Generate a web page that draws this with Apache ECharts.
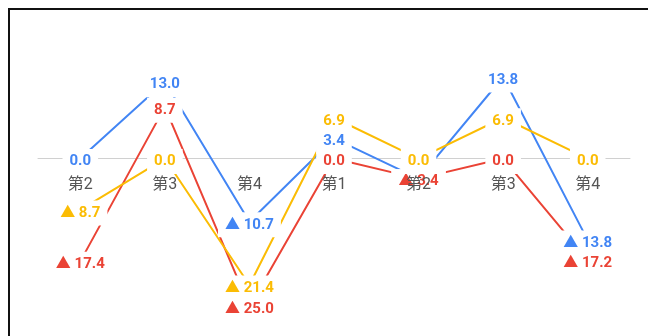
<!DOCTYPE html>
<html>
<head>
<meta charset="utf-8">
<script src="https://cdn.jsdelivr.net/npm/echarts@6/dist/echarts.min.js"></script>
<style>
  html, body { margin: 0; padding: 0; overflow: hidden; background: #fff; }
  #frame {
    position: absolute; left: 8px; top: 8px;
    width: 700px; height: 400px;
    border-top: 2px solid #111; border-left: 2px solid #111;
  }
  #chart { width: 638px; height: 326px; }
</style>
</head>
<body>
<div id="frame"><div id="chart"></div></div>
<script>
// 季度
const categories = ['第2', '第3', '第4', '第1', '第2', '第3', '第4'];
// 三条线的值（负值标签显示为 ▲ + 绝对值）
const blueValues = [0.0, 13.0, -10.7, 3.4, -3.4, 13.8, -13.8];
const redValues = [-17.4, 8.7, -25.0, 0.0, -3.4, 0.0, -17.2];
const yellowValues = [-8.7, 0.0, -21.4, 6.9, 0.0, 6.9, 0.0];

const FONT = 'Roboto, "Noto Sans CJK SC", sans-serif';
const Y_MIN = -28, Y_MAX = 16;
const GRID_TOP = 54, GRID_BOTTOM = 12, CHART_H = 326;

function labelText(p) {
  const v = p.value;
  return v < 0 ? '▲ ' + Math.abs(v).toFixed(1) : v.toFixed(1);
}

function makeSeries(data, color) {
  return {
    type: 'line',
    data: data,
    symbol: 'circle',
    symbolSize: 2,
    itemStyle: { color: 'transparent' },
    lineStyle: { color: color, width: 2 },
    emphasis: { disabled: true },
    label: {
      show: true,
      position: 'inside',
      offset: [0, 3],
      formatter: labelText,
      color: color,
      fontSize: 15,
      fontWeight: 'bold',
      fontFamily: FONT,
      backgroundColor: '#fff',
      padding: [5, 7]
    }
  };
}

// x轴放在0的位置：从网格底边往上移
const gridH = CHART_H - GRID_TOP - GRID_BOTTOM;
const zeroOffset = -gridH * (0 - Y_MIN) / (Y_MAX - Y_MIN);

const myChart = echarts.init(document.getElementById('chart'));
myChart.setOption({
  animation: false,
  grid: { left: 28, right: 18, top: GRID_TOP, bottom: GRID_BOTTOM, outerBoundsMode: 'none', containLabel: false },
  xAxis: [
    {
      // 只画0线，在数据标签下面
      type: 'category',
      data: categories,
      position: 'bottom',
      offset: zeroOffset,
      z: 0,
      axisLine: { onZero: false, lineStyle: { color: '#d0d0d0', width: 1 } },
      axisTick: { show: false },
      axisLabel: { show: false }
    },
    {
      // 只画类目文字，盖在数据标签上面
      type: 'category',
      data: categories,
      position: 'bottom',
      offset: zeroOffset,
      z: 5,
      axisLine: { show: false, onZero: false },
      axisTick: { show: false },
      axisLabel: { color: '#555', fontSize: 16, fontFamily: FONT, margin: 18 }
    }
  ],
  yAxis: {
    type: 'value',
    min: Y_MIN,
    max: Y_MAX,
    show: false,
    splitLine: { show: false }
  },
  series: [
    makeSeries(blueValues, '#4285F4'),
    makeSeries(redValues, '#EA4335'),
    makeSeries(yellowValues, '#FBBC04')
  ]
});
</script>
</body>
</html>
